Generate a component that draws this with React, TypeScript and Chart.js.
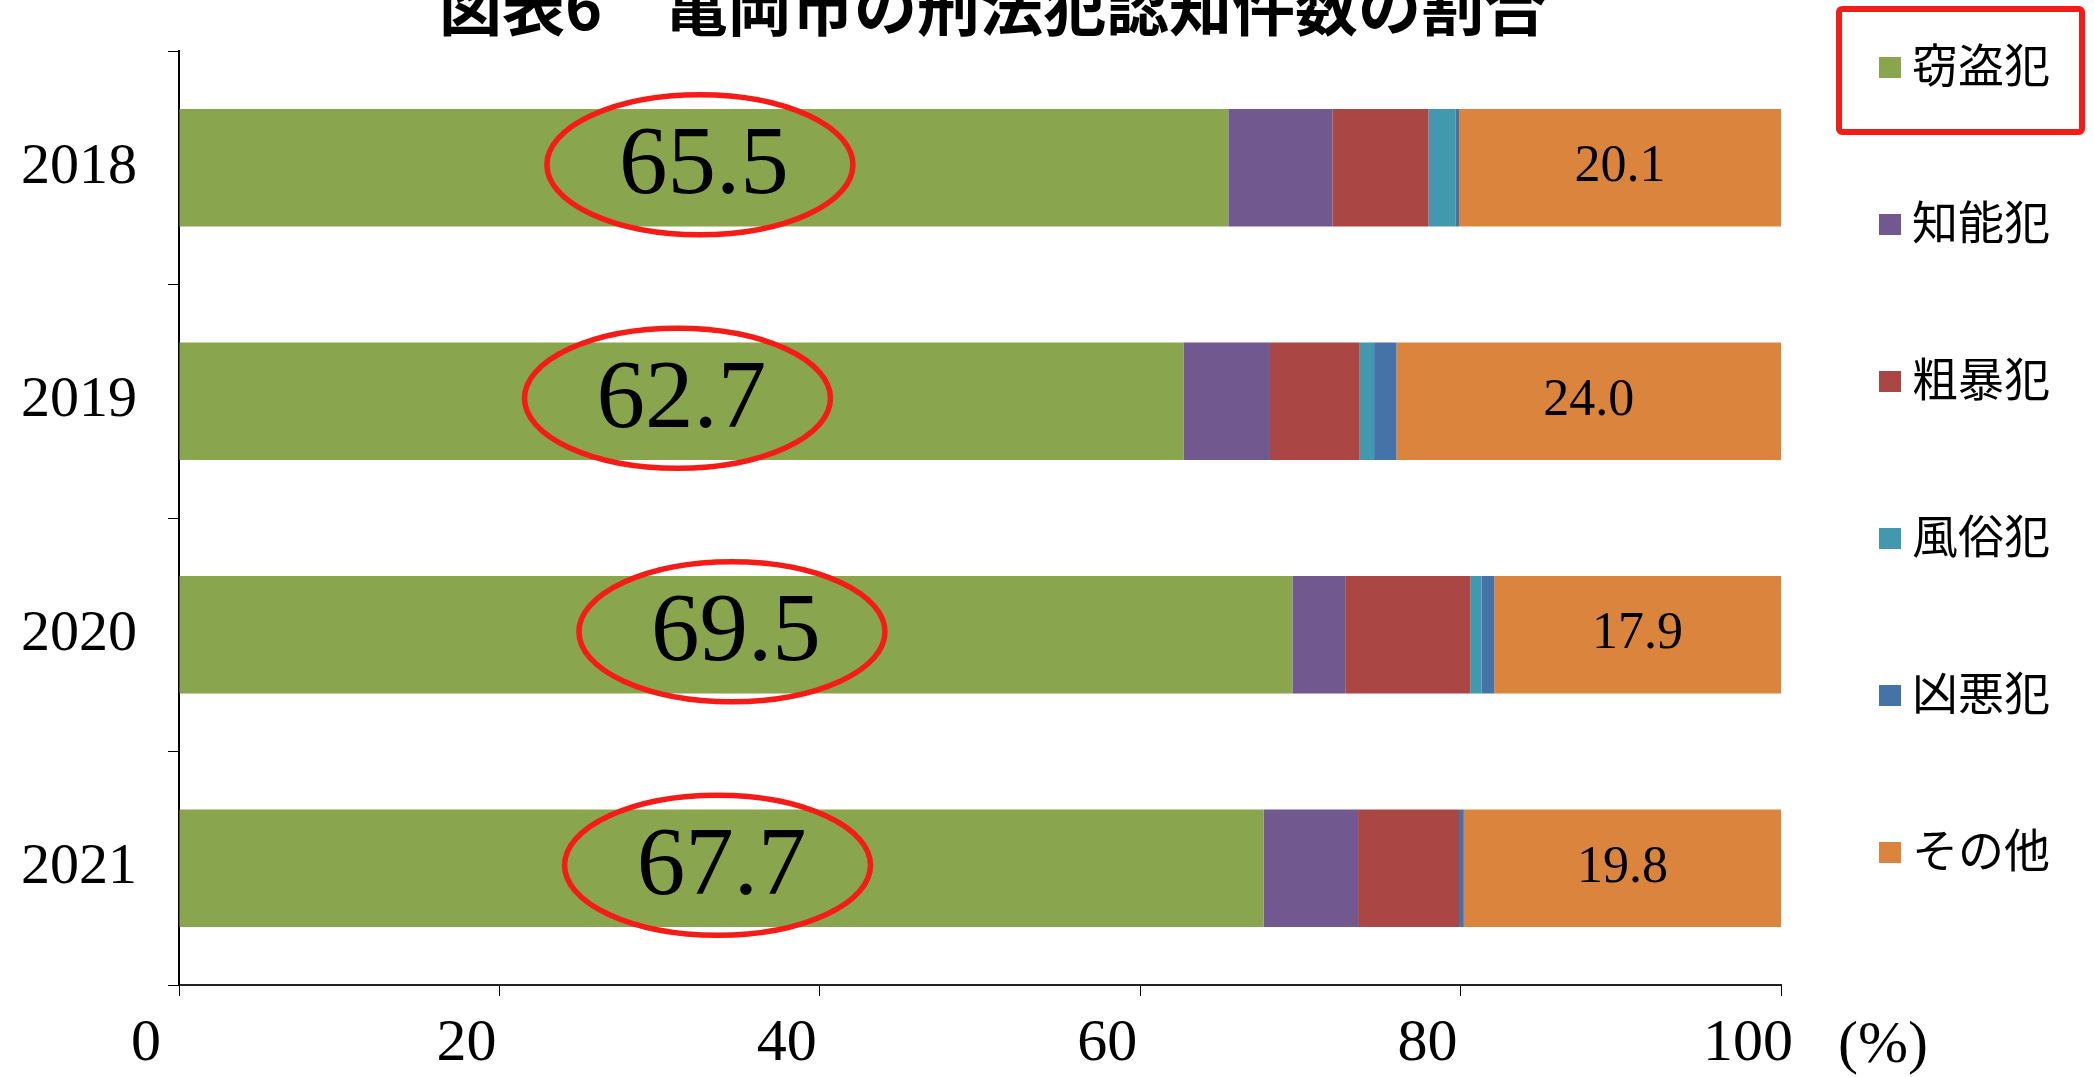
import { useEffect, useRef } from "react";
import { Chart, registerables } from "chart.js";

Chart.register(...registerables);

// ---- data ----
const years = ["2018", "2019", "2020", "2021"];
const seriesNames = ["窃盗犯", "知能犯", "粗暴犯", "風俗犯", "凶悪犯", "その他"];
const theft = [65.5, 62.7, 69.5, 67.7];
const fraud = [6.5, 5.4, 3.3, 5.9];
const violent = [6.0, 5.6, 7.8, 6.3];
const moral = [1.7, 0.9, 0.7, 0.0];
const heinous = [0.2, 1.4, 0.8, 0.3];
const other = [20.1, 24.0, 17.9, 19.8];
const xTickValues = [0, 20, 40, 60, 80, 100];
const titleText = "図表6　亀岡市の刑法犯認知件数の割合";
const unitText = "(%)";

const seriesValues = [theft, fraud, violent, moral, heinous, other];
const colors = ["#89A54E", "#71588F", "#AA4643", "#4198AF", "#4572A7", "#DB843D"];

const SERIF = "'Liberation Serif', 'DejaVu Serif', serif";
const CJK = "'Noto Sans CJK JP', sans-serif";
const RED = "#F51B17";

const overlayPlugin = {
  id: "overlay",
  afterDatasetsDraw(chart: any) {
    const ctx = chart.ctx as CanvasRenderingContext2D;
    ctx.save();
    ctx.textAlign = "center";
    ctx.textBaseline = "middle";

    // big labels on theft segment + red ellipses
    const m0 = chart.getDatasetMeta(0);
    m0.data.forEach((bar: any, i: number) => {
      const p = bar.getProps(["x", "y", "base"], true);
      const cx = (p.x + p.base) / 2;
      const cy = p.y;
      ctx.font = `97px ${SERIF}`;
      ctx.fillStyle = "#000";
      ctx.fillText(theft[i].toFixed(1), cx, cy);
      ctx.beginPath();
      ctx.ellipse(cx - 4, cy - 3, 153, 70, 0, 0, Math.PI * 2);
      ctx.strokeStyle = RED;
      ctx.lineWidth = 5.5;
      ctx.stroke();
    });

    // labels on "other" segment
    const m5 = chart.getDatasetMeta(5);
    m5.data.forEach((bar: any, i: number) => {
      const p = bar.getProps(["x", "y", "base"], true);
      ctx.font = `52px ${SERIF}`;
      ctx.fillStyle = "#000";
      ctx.fillText(other[i].toFixed(1), (p.x + p.base) / 2, p.y);
    });
    ctx.restore();
  },
  afterDraw(chart: any) {
    const ctx = chart.ctx as CanvasRenderingContext2D;
    ctx.save();
    // title (partially cut at the top)
    ctx.fillStyle = "#000";
    ctx.font = `bold 63px ${CJK}`;
    ctx.textAlign = "center";
    ctx.textBaseline = "alphabetic";
    ctx.fillText(titleText, 993, 30);

    // unit label
    ctx.font = `60px ${SERIF}`;
    ctx.textBaseline = "middle";
    ctx.fillText(unitText, 1883, 1046);

    // legend
    seriesNames.forEach((name, i) => {
      const y = 67 + i * 157;
      ctx.fillStyle = colors[i];
      ctx.fillRect(1879, y - 10, 22, 21);
      ctx.fillStyle = "#000";
      ctx.font = `46px ${CJK}`;
      ctx.textAlign = "left";
      ctx.textBaseline = "middle";
      ctx.fillText(name, 1912, y - 2);
    });

    // red highlight box around first legend item
    ctx.strokeStyle = RED;
    ctx.lineWidth = 6;
    ctx.beginPath();
    (ctx as any).roundRect(1839, 9, 243, 123, 3);
    ctx.stroke();
    ctx.restore();
  },
};

export default function App() {
  const ref = useRef<HTMLCanvasElement | null>(null);

  useEffect(() => {
    if (!ref.current) return;
    const chart = new Chart(ref.current, {
      type: "bar",
      data: {
        labels: years,
        datasets: seriesNames.map((name, i) => ({
          label: name,
          data: seriesValues[i],
          backgroundColor: colors[i],
          borderWidth: 0,
          categoryPercentage: 1,
          barPercentage: 0.503,
        })),
      },
      options: {
        indexAxis: "y",
        responsive: false,
        devicePixelRatio: 1,
        animation: false,
        events: [],
        layout: { padding: { top: 51, right: 313, left: 0, bottom: 0 } },
        plugins: {
          legend: { display: false },
          title: { display: false },
          tooltip: { enabled: false },
        },
        scales: {
          x: {
            type: "linear",
            stacked: true,
            min: 0,
            max: 100,
            afterBuildTicks: (scale: any) => {
              scale.ticks = xTickValues.map((v) => ({ value: v }));
            },
            afterFit: (scale: any) => {
              scale.height = 92;
              scale.paddingLeft = 0;
              scale.paddingRight = 0;
            },
            ticks: {
              font: { family: SERIF, size: 60 },
              color: "#000",
              labelOffset: -33,
              padding: 12,
              maxRotation: 0,
              autoSkip: false,
            },
            grid: {
              drawOnChartArea: false,
              drawTicks: true,
              tickLength: 11,
              color: "#000",
              lineWidth: 1,
            },
            border: { display: true, color: "#222", width: 2 },
          },
          y: {
            type: "category",
            stacked: true,
            offset: true,
            afterFit: (scale: any) => {
              scale.width = 179;
              scale.paddingTop = 0;
              scale.paddingBottom = 0;
            },
            ticks: {
              font: { family: SERIF, size: 58 },
              color: "#000",
              padding: 31,
            },
            grid: {
              offset: true,
              drawOnChartArea: false,
              drawTicks: true,
              tickLength: 11,
              color: "#000",
              lineWidth: 1,
            },
            border: { display: true, color: "#000", width: 2 },
          },
        },
      },
      plugins: [overlayPlugin],
    } as any);
    return () => chart.destroy();
  }, []);

  return (
    <div style={{ position: "fixed", left: 0, top: 0, width: 2094, height: 1077, background: "#fff" }}>
      <canvas ref={ref} width={2094} height={1077} style={{ width: 2094, height: 1077, display: "block" }} />
    </div>
  );
}
